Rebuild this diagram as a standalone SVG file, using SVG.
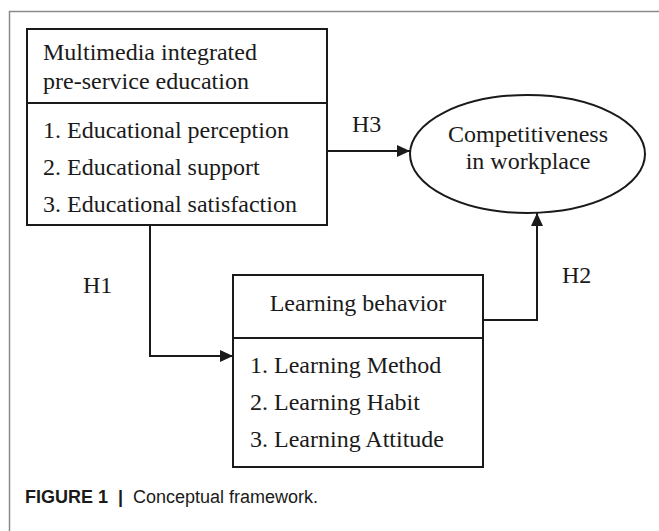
<svg xmlns="http://www.w3.org/2000/svg" width="659" height="531" viewBox="0 0 659 531">
<style>
.box{fill:#fff;stroke:#1a1a1a;stroke-width:2}
.t{font-family:"Liberation Serif","Times New Roman",serif;font-size:24px;fill:#1a1a1a}
.c{text-anchor:middle}
.con{fill:none;stroke:#1a1a1a;stroke-width:2}
.cap{font-family:"Liberation Sans",Arial,sans-serif;font-size:18px;fill:#1a1a1a}
</style>
<defs>
<marker id="ah" markerUnits="userSpaceOnUse" markerWidth="14" markerHeight="12" refX="13" refY="6" orient="auto">
<path d="M0,0 L13,6 L0,12 z" fill="#1a1a1a"/>
</marker>
</defs>
<rect width="659" height="531" fill="#fff"/>
<path d="M9.5,531 V11.5 H659" fill="none" stroke="#8a8a8a" stroke-width="1.5"/>
<g id="connectors">
<path class="con" d="M327,151 H410" marker-end="url(#ah)"/>
<path class="con" d="M150,225 V356 H233" marker-end="url(#ah)"/>
<path class="con" d="M483,320 H537 V213" marker-end="url(#ah)"/>
<text class="t" x="352" y="132">H3</text>
<text class="t" x="83" y="293">H1</text>
<text class="t" x="562" y="283">H2</text>
</g>
<g id="education">
<rect class="box" x="27" y="29" width="300" height="196"/>
<line class="con" x1="27" y1="103" x2="327" y2="103"/>
<text class="t" x="43" y="60">Multimedia integrated</text>
<text class="t" x="43" y="89">pre-service education</text>
<text class="t" x="43" y="138">1. Educational perception</text>
<text class="t" x="43" y="175">2. Educational support</text>
<text class="t" x="43" y="212">3. Educational satisfaction</text>
</g>
<g id="competitiveness">
<ellipse class="box" cx="527.5" cy="154" rx="117.5" ry="59"/>
<text class="t c" x="528" y="142">Competitiveness</text>
<text class="t c" x="528" y="169">in workplace</text>
</g>
<g id="learning">
<rect class="box" x="233" y="275" width="250" height="192"/>
<line class="con" x1="233" y1="338" x2="483" y2="338"/>
<text class="t c" x="358" y="311">Learning behavior</text>
<text class="t" x="250" y="373">1. Learning Method</text>
<text class="t" x="250" y="410">2. Learning Habit</text>
<text class="t" x="250" y="447">3. Learning Attitude</text>
</g>
<g id="caption">
<text class="cap" x="25" y="503" font-weight="bold">FIGURE 1</text>
<text class="cap" x="118" y="503" font-weight="bold">|</text>
<text class="cap" x="133" y="503">Conceptual framework.</text>
</g>
</svg>
